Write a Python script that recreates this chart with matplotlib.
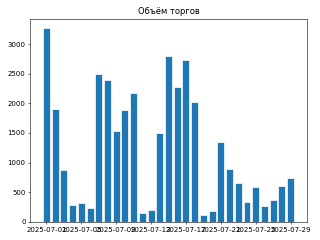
import matplotlib
matplotlib.use("Agg")
import matplotlib.pyplot as plt
import matplotlib.dates as mdates
import pandas as pd

dates = pd.date_range("2025-07-01", "2025-07-29", freq="D")
volumes = [3270, 1900, 870, 280, 310, 230, 2490, 2400, 1530, 1890, 2180, 140, 200, 1500,
           2810, 2270, 2740, 2020, 120, 180, 1340, 890, 650, 330, 590, 270, 360, 600, 740]

fig, ax = plt.subplots(figsize=(6.4, 4.8), dpi=50)
ax.bar(dates, volumes, color="#1f77b4", edgecolor="white")
ax.set_title("Объём торгов")
ax.set_xticks(dates[::4])
ax.xaxis.set_major_formatter(mdates.DateFormatter("%Y-%m-%d"))
fig.tight_layout()
fig.savefig("out.png", dpi=50)
